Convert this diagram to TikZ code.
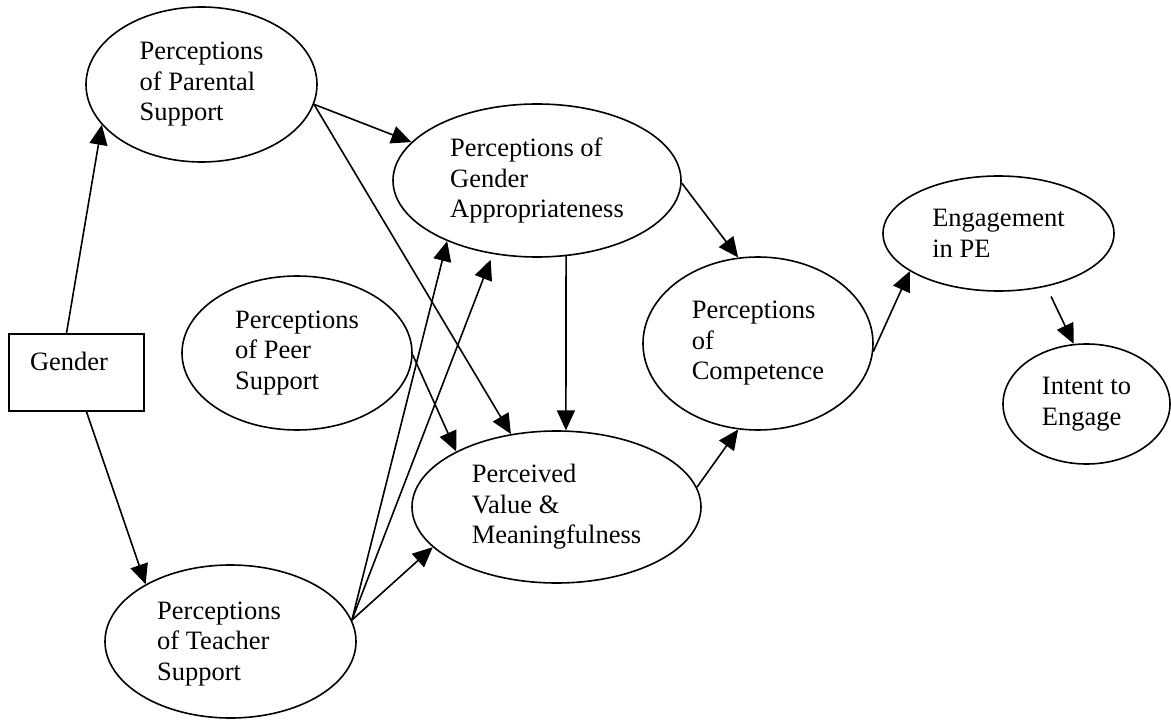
\documentclass[tikz,border=0pt]{standalone}
\usepackage{fontspec}
\setmainfont{Liberation Serif}
\usetikzlibrary{shapes.geometric,arrows.meta}

\begin{document}
\begin{tikzpicture}[x=1pt,y=-1pt,
    link/.style={-{Triangle[length=20pt,width=18pt]},line width=1.6pt,draw},
    txt/.style={font=\fontsize{26.5}{30.5}\selectfont,align=left,inner sep=0pt},
    factor/.style={ellipse,draw,line width=1.6pt,txt}]

    \useasboundingbox (0,0) rectangle (1171,722);

    \node[draw,line width=1.6pt,minimum width=135pt,minimum height=77pt] (gen) at (76.5,372.5) {};
    \node[txt] (gentxt) at (69,361) {Gender};

    \node[factor,minimum width=231pt,minimum height=155pt] (par) at (201.5,84.5) {Perceptions\\of Parental\\Support};
    \node[factor,minimum width=288pt,minimum height=153pt] (app) at (537,180.5) {Perceptions of\\Gender\\Appropriateness};
    \node[factor,minimum width=230pt,minimum height=154pt] (peer) at (297,353) {Perceptions\\of Peer\\Support};
    \node[factor,minimum width=251pt,minimum height=153pt] (tea) at (230.5,641.5) {};
    \node[txt] (teatxt) at (219,644) {Perceptions\\of Teacher\\Support};
    \node[factor,minimum width=289pt,minimum height=152pt] (per) at (556.5,507) {Perceived\\Value \&\\Meaningfulness};
    \node[factor,minimum width=230pt,minimum height=173pt] (com) at (758,343.5) {Perceptions\\of\\Competence};
    \node[factor,minimum width=231pt,minimum height=115pt] (eng) at (998.5,233.5) {Engagement\\in PE};
    \node[factor,minimum width=167pt,minimum height=120pt] (int) at (1086.5,404) {Intent to\\Engage};

    \path[link] ([xshift=-10pt]gen.north) -- (par.202);
    \path[link] ([xshift=10pt]gen.south) -- (tea.146);
    \path[link] (par.-10) -- (app.163);
    \path[link] (par.-10) -- (per.122);
    \path[link] (app.-69) -- (per.83);
    \path[link] (app.-1) -- (com.103);
    \path[link] (peer.-1) -- (per.151);
    \path[link] (tea.10) -- (app.214);
    \path[link,shorten >=6pt] (tea.10) -- (app.-121);
    \path[link] (tea.10) -- (per.198);
    \path[link] (per.8) -- (com.257);
    \path[link] (com.-4) -- (eng.203);
    \path[link,shorten <=11pt] (eng.-48) -- (int.102);
\end{tikzpicture}
\end{document}
